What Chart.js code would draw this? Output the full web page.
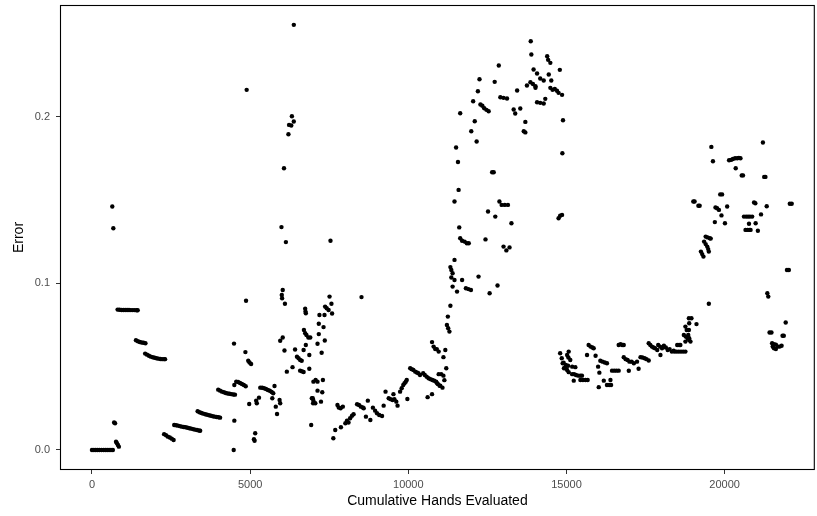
<!DOCTYPE html>
<html>
<head>
<meta charset="utf-8">
<script src="https://cdn.jsdelivr.net/npm/chart.js@4.4.1/dist/chart.umd.min.js"></script>
<style>
  html, body { margin: 0; padding: 0; background: #ffffff; }
  #wrap { width: 817px; height: 516px; position: relative; }
</style>
</head>
<body>
<div id="wrap"><canvas id="errorChart" width="817" height="516"></canvas></div>
<script>
// Error readings as [cumulative hands, error], grouped by stretch of the run
const warmupRun = [
  [0,0],[60,0],[120,0],[180,0],[240,0],[300,0],[360,0],[420,0],[480,0],[540,0],[600,0],[660,0],
  [700,0.0165],[730,0.016],[760,0.005],[790,0.004],[820,0.003],[850,0.002],
  [642,0.146],[675,0.133],
  [810,0.0842],[870,0.0841],[930,0.084],[990,0.084],[1050,0.084],[1110,0.084],[1170,0.084],[1230,0.0839],[1290,0.0839],[1350,0.0839],[1410,0.0838],[1445,0.0838],
  [1390,0.0658],[1450,0.0652],[1510,0.0648],[1570,0.0645],[1630,0.0643],[1690,0.064],
  [1680,0.0578],[1740,0.0572],[1800,0.0565],[1860,0.056],[1920,0.0556],[1980,0.0553],[2040,0.055],[2100,0.0548],[2160,0.0546],[2220,0.0545],[2280,0.0545],[2310,0.0545],
  [2280,0.0095],[2340,0.0088],[2400,0.008],[2460,0.0075],[2520,0.0068],[2580,0.006],
  [2600,0.015],[2660,0.0148],[2720,0.0146],[2780,0.0143],[2840,0.014],[2900,0.0138],[2960,0.0136],[3020,0.0133],[3080,0.013],[3140,0.0128],[3200,0.0125],[3260,0.0122],[3320,0.012],[3380,0.0117],[3420,0.0115],
  [3340,0.0232],[3400,0.0226],[3460,0.0222],[3520,0.0218],[3580,0.0214],[3640,0.0211],[3700,0.0208],[3760,0.0205],[3820,0.0202],[3880,0.02],[3940,0.0198],[4000,0.0196],[4050,0.0194],
  [3990,0.0362],[4050,0.0356],[4110,0.035],[4170,0.0346],[4230,0.0342],[4290,0.0339],[4350,0.0337],[4410,0.0335],[4470,0.0333],[4520,0.0332],
  [4500,0.039],[4560,0.041],[4620,0.0408],[4680,0.0402],[4740,0.0396],[4800,0.039],[4860,0.0382],
  [4500,0.0176],[4480,0],[4490,0.0638],[4850,0.0587],[4940,0.0535],[4980,0.0525],[5030,0.0516],[4870,0.0895],[4890,0.216]
];

const spikeRun = [
  [6130,0.1247],[6380,0.255],[6320,0.2002],[6380,0.197],[6230,0.195],[6300,0.1946],[6210,0.1894],[6070,0.169],[5990,0.1337],
  [6030,0.096],[6000,0.093],[6010,0.091],[6100,0.0877],[6740,0.0847],[6750,0.083],[6760,0.082],
  [6030,0.0675],[5950,0.0655],[6085,0.0597],[6420,0.0603],[6690,0.06],[6760,0.063],
  [6700,0.072],[6740,0.07],[6780,0.069],[6840,0.0675],
  [6480,0.056],[6530,0.055],[6580,0.054],[6630,0.0535],[6870,0.057],[6870,0.0487],
  [6160,0.047],[6340,0.0497],[6580,0.0476],[6630,0.0472],[6690,0.0468],
  [7000,0.041],[6980,0.031],[6990,0.028],[6930,0.015],
  [5770,0.0384],[5320,0.0374],[5380,0.0373],[5440,0.037],[5500,0.0366],[5560,0.036],[5620,0.0355],[5680,0.0348],[5730,0.034],
  [5700,0.031],[5930,0.03],[5950,0.028],[5810,0.026],[5850,0.0216],[5280,0.0314],[5190,0.0295],[5210,0.028],[4970,0.0276],
  [5160,0.01],[5120,0.0065],[5140,0.0055],
  [7540,0.1255],[8520,0.0917],[7510,0.092],[7570,0.0877],[7370,0.086],[7420,0.085],[7480,0.084],[7590,0.0819],
  [7190,0.081],[7350,0.081],[7170,0.0757],[7320,0.0737],[7170,0.0695],[6900,0.0675],[7360,0.0657],[7130,0.0637],[7260,0.0583],
  [7070,0.042],[7130,0.041],[7300,0.042],[7130,0.0356],[7280,0.0346],[6950,0.031],[7000,0.0295],[7060,0.028],[7240,0.029]
];

const climbRun = [
  [7630,0.007],[7690,0.012],[7870,0.0136],
  [8010,0.016],[8060,0.0175],[8110,0.0165],[8160,0.019],[8220,0.0205],[8270,0.0214],
  [7760,0.027],[7800,0.0255],[7860,0.025],[7930,0.026],
  [8380,0.0274],[8440,0.027],[8500,0.026],[8560,0.0255],[8590,0.025],
  [8660,0.02],[8800,0.018],[8720,0.0296],[8880,0.0254],[8950,0.0236],[9010,0.022],[9080,0.021],[9170,0.0204],
  [9220,0.0266],[9280,0.035],[9380,0.031],[9440,0.0305],[9500,0.03],[9560,0.0305],[9620,0.029],[9660,0.0266],[9530,0.0335],
  [9740,0.035],[9790,0.037],[9840,0.039],[9880,0.04],[9920,0.041],[9950,0.042],[9970,0.0306],
  [10060,0.049],[10110,0.0485],[10160,0.048],[10220,0.047],[10270,0.0465],[10320,0.046],[10370,0.045],
  [10470,0.046],[10520,0.045],[10580,0.044],[10640,0.043],[10700,0.0425],[10760,0.042],[10820,0.0415],[10880,0.041],[10940,0.0395],[11010,0.0386],
  [10610,0.0317],[10750,0.0335],[10750,0.0647],[10800,0.062],[10850,0.0605],[10960,0.059],[10960,0.0455],
  [10900,0.0605],[11170,0.06],[11110,0.0557],[11200,0.049],[11040,0.0455],[11110,0.0446],[11140,0.0419],
  [10910,0.04],[10990,0.0385],[11080,0.0374]
];

const peakRun = [
  [11640,0.127],[11700,0.1255],[11780,0.125],[11850,0.124],[11910,0.124],[12440,0.1263],[13010,0.122],[13100,0.1197],[13200,0.1215],
  [11460,0.114],[11330,0.1097],[11360,0.108],[11400,0.106],[11360,0.1035],[11460,0.102],[11700,0.102],[12220,0.104],
  [11400,0.098],[11540,0.095],[11820,0.097],[11900,0.0965],[11980,0.096],[12820,0.0987],[12570,0.094],
  [11330,0.0865],[11250,0.08],[11220,0.075],[11260,0.073],[11300,0.071],
  [13870,0.2452],[13890,0.2372],[14390,0.2362],[14420,0.234],[14490,0.2322],[12860,0.2306],[14790,0.228],[13960,0.2282],[14070,0.2258],[14440,0.2252],
  [12250,0.2224],[12730,0.2208],[14170,0.2228],[14280,0.2216],[14520,0.2216],[13860,0.2206],[13940,0.2195],[14020,0.2182],[13750,0.2186],[14020,0.2172],
  [14490,0.2172],[14560,0.216],[14630,0.2165],[14700,0.2155],[14750,0.2142],[12200,0.2152],[13440,0.2156],[14860,0.213],
  [12910,0.2116],[13010,0.2112],[13120,0.2108],[14330,0.2106],[14070,0.2086],[14170,0.2082],[14280,0.2078],[12050,0.2092],
  [12280,0.2072],[12340,0.2065],[12400,0.205],[12470,0.204],[12540,0.2032],[11640,0.202],[13330,0.2042],[13380,0.2018],[13540,0.2048],
  [14890,0.1978],[12100,0.1972],[13700,0.1968],[11990,0.1912],[13650,0.1912],[13700,0.1905],[12160,0.185],[11510,0.1814],[14870,0.178],
  [11570,0.1727],[12650,0.1666],[12700,0.1666],[11590,0.156],[11460,0.149],[12880,0.149],[12950,0.147],[13050,0.147],[13150,0.147],
  [12520,0.143],[12750,0.14],[13260,0.136],[11610,0.1335],[14750,0.139],[14800,0.1405],[14860,0.141]
];

const plateauRun = [
  [14800,0.058],[14850,0.055],[14880,0.052],[14920,0.049],[14960,0.0495],
  [15070,0.059],[15020,0.057],[15060,0.0555],[15120,0.054],[14910,0.0524],[14980,0.051],[15050,0.0505],[15180,0.05],
  [14970,0.049],[15020,0.048],[15070,0.0467],[15280,0.0497],[15180,0.0455],[15240,0.0455],[15300,0.045],[15370,0.0446],[15440,0.0446],[15490,0.0446],
  [15440,0.042],[15520,0.042],[15600,0.042],[15670,0.042],[15230,0.0416],
  [15700,0.063],[15760,0.062],[15820,0.0615],[15860,0.061],[15650,0.057],[15920,0.0565],[16000,0.05],
  [16070,0.0535],[16140,0.053],[16210,0.0525],[16280,0.052],[16040,0.0464],[16180,0.0416],[16020,0.0377],
  [16280,0.039],[16350,0.039],[16410,0.039],[16390,0.042],[16440,0.0476],[16510,0.0476],[16580,0.0476],[16650,0.0476],
  [16650,0.063],[16710,0.0635],[16760,0.063],[16810,0.063],
  [16810,0.0557],[16870,0.0545],[16930,0.054],[16990,0.053],[17060,0.053],[17130,0.052],[16970,0.0475],[17230,0.053],[17280,0.0487],
  [17340,0.0557],[17400,0.0555],[17470,0.055],[17530,0.0545],[17600,0.0537],
  [17600,0.064],[17650,0.063],[17700,0.062],[17750,0.0615],[17800,0.061],[17870,0.06],
  [17900,0.063],[17960,0.062],[18020,0.061],[18080,0.0625],[18140,0.0615],[18200,0.06],[18260,0.0605],[18330,0.059],[18390,0.0595],[17970,0.057],
  [18410,0.059],[18480,0.059],[18550,0.059],[18620,0.059],[18690,0.059],[18760,0.059],[18500,0.063],[18560,0.063],[18600,0.063],
  [18710,0.069],[18770,0.068],[18830,0.067],[18880,0.066],[18920,0.065],[18870,0.079],[18880,0.076],[18870,0.072]
];

const tailRun = [
  [21210,0.1844],[19580,0.1818],[19630,0.1732],[20140,0.1738],[20200,0.174],[20260,0.1745],[20330,0.175],[20400,0.175],[20450,0.1752],[20500,0.175],
  [20350,0.169],[20540,0.1647],[20580,0.1647],[21250,0.1638],[21290,0.1638],[19860,0.1533],[19920,0.1533],
  [19010,0.149],[19050,0.149],[19170,0.1465],[19210,0.1465],[19710,0.1455],[19760,0.145],[19820,0.144],[20080,0.146],
  [20930,0.1485],[20970,0.148],[21330,0.1462],[22060,0.1477],[22120,0.1477],[19900,0.1407],
  [20610,0.14],[20680,0.14],[20740,0.14],[20800,0.14],[20870,0.14],[21150,0.1413],[19690,0.1367],[20010,0.136],[20770,0.1357],[20980,0.136],
  [20660,0.132],[20720,0.132],[20780,0.132],[20820,0.132],[21050,0.1315],
  [19400,0.128],[19460,0.1275],[19530,0.127],[19560,0.1268],
  [19350,0.125],[19400,0.1235],[19450,0.122],[19480,0.1205],[19500,0.119],[19250,0.119],[19290,0.1175],[19330,0.116],
  [21970,0.108],[22030,0.108],[21350,0.094],[21380,0.092],[19500,0.0877],[21930,0.0765],
  [18950,0.079],[19110,0.0755],[18760,0.074],[18800,0.072],[18850,0.069],[18880,0.067],[18760,0.065],
  [21420,0.0705],[21480,0.0705],[21830,0.0685],[21870,0.0685],
  [21500,0.064],[21560,0.0635],[21620,0.0632],[21680,0.062],[21740,0.062],[21800,0.0625],[21560,0.061],[21620,0.0605],[21520,0.062]
];

const xTicks = [0, 5000, 10000, 15000, 20000];
const yTicks = [0, 0.1, 0.2];
const yTickLabels = ['0.0', '0.1', '0.2'];

const FONT = "'Liberation Sans', Arial, sans-serif";

const points = [...warmupRun, ...spikeRun, ...climbRun, ...peakRun, ...plateauRun, ...tailRun]
  .map(([x, y]) => ({ x, y }));

// full box around the panel, drawn over the points
const panelBorder = {
  id: 'panelBorder',
  afterDraw(chart) {
    const { ctx, chartArea: a } = chart;
    ctx.save();
    ctx.strokeStyle = '#000000';
    ctx.lineWidth = 1.1;
    ctx.strokeRect(a.left + 0.5, a.top + 0.5, a.right - a.left - 1, a.bottom - a.top - 1);
    ctx.restore();
  }
};

new Chart(document.getElementById('errorChart'), {
  type: 'scatter',
  data: {
    datasets: [{
      data: points,
      backgroundColor: '#000000',
      borderWidth: 0,
      pointRadius: 2.2,
      pointHoverRadius: 2.2
    }]
  },
  options: {
    responsive: false,
    animation: false,
    layout: { padding: { top: 5, right: 1, left: 0, bottom: 0 } },
    plugins: {
      legend: { display: false },
      tooltip: { enabled: false }
    },
    scales: {
      x: {
        type: 'linear',
        min: -1011,
        max: 22850,
        afterFit(scale) {
          scale.height = 46;
          scale.paddingLeft = 0;
          scale.paddingRight = 0;
        },
        afterBuildTicks(scale) { scale.ticks = xTicks.map(v => ({ value: v })); },
        grid: { drawOnChartArea: false, drawTicks: true, tickLength: 4, tickColor: '#333333', lineWidth: 1 },
        border: { display: false },
        ticks: {
          color: '#4d4d4d',
          font: { family: FONT, size: 11 },
          padding: 4,
          maxRotation: 0,
          callback: v => String(v)
        },
        title: {
          display: true,
          text: 'Cumulative Hands Evaluated',
          color: '#000000',
          font: { family: FONT, size: 14 },
          padding: { top: 4, bottom: 6 }
        }
      },
      y: {
        type: 'linear',
        min: -0.012,
        max: 0.2669,
        afterFit(scale) {
          scale.width = 60;
          scale.paddingTop = 0;
          scale.paddingBottom = 0;
        },
        afterBuildTicks(scale) { scale.ticks = yTicks.map(v => ({ value: v })); },
        grid: { drawOnChartArea: false, drawTicks: true, tickLength: 4, tickColor: '#333333', lineWidth: 1 },
        border: { display: false },
        ticks: {
          color: '#4d4d4d',
          font: { family: FONT, size: 11 },
          padding: 6,
          callback: (v, i) => yTickLabels[i]
        },
        title: {
          display: true,
          text: 'Error',
          color: '#000000',
          font: { family: FONT, size: 14 },
          padding: { top: 11, bottom: 0 }
        }
      }
    }
  },
  plugins: [panelBorder]
});
</script>
</body>
</html>
